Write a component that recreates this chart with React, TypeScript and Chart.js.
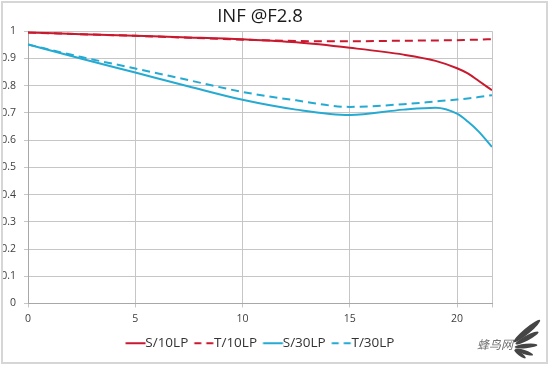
import React, { useEffect, useRef } from "react";
import { Chart, registerables } from "chart.js";

Chart.register(...registerables);

const fieldPositions = [0, 2.5, 5, 7.5, 10, 12.5, 15, 17.5, 19, 20, 20.5, 21, 21.63];
const s10 = [0.995, 0.989, 0.983, 0.977, 0.970, 0.959, 0.939, 0.914, 0.891, 0.864, 0.845, 0.818, 0.783];
const t10 = [0.995, 0.989, 0.983, 0.976, 0.969, 0.964, 0.963, 0.965, 0.966, 0.967, 0.968, 0.969, 0.971];
const s30 = [0.951, 0.899, 0.848, 0.797, 0.748, 0.712, 0.692, 0.712, 0.719, 0.697, 0.668, 0.632, 0.575];
const t30 = [0.951, 0.905, 0.863, 0.820, 0.777, 0.746, 0.722, 0.732, 0.742, 0.749, 0.753, 0.758, 0.765];
const seriesNames = ["S/10LP", "T/10LP", "S/30LP", "T/30LP"];
const xTickValues = [0, 5, 10, 15, 20];
const xMax = 21.63;
const titleText = "INF @F2.8";
const watermarkText = "蜂鸟网";

const RED = "#C8192E";
const CYAN = "#25AAD2";

function makeLegendImage(color: string, dashed: boolean) {
  const c = document.createElement("canvas");
  c.width = 40;
  c.height = 4;
  const ctx = c.getContext("2d")!;
  ctx.strokeStyle = color;
  ctx.lineWidth = 2;
  if (dashed) ctx.setLineDash([7, 5]);
  ctx.beginPath();
  ctx.moveTo(13.5, 2);
  ctx.lineTo(33.5, 2);
  ctx.stroke();
  return c;
}

const framePlugin = {
  id: "frame",
  beforeDraw(chart: any) {
    const ctx = chart.ctx;
    ctx.save();
    ctx.fillStyle = "#ffffff";
    ctx.fillRect(0, 0, chart.width, chart.height);
    ctx.restore();
  },
  afterDraw(chart: any) {
    const ctx = chart.ctx;
    ctx.save();
    ctx.strokeStyle = "#d6d6d6";
    ctx.lineWidth = 2;
    ctx.strokeRect(2, 2, 545, 361);
    // watermark
    ctx.fillStyle = "#707070";
    ctx.font = "italic 12px 'Noto Sans CJK SC'";
    ctx.textBaseline = "middle";
    ctx.textAlign = "left";
    ctx.fillText(watermarkText, 477, 344);
    ctx.fillStyle = "#454545";
    const leaves = [
      [527, 331, 17, 3, -40],
      [527, 338, 13, 2.5, -28],
      [526, 346, 11.5, 2.2, -5],
      [524, 352, 9.5, 2, 18],
      [520, 354, 7, 1.8, 36],
    ];
    leaves.forEach(([x, y, rx, ry, a]) => {
      ctx.beginPath();
      ctx.ellipse(x, y, rx, ry, (a * Math.PI) / 180, 0, Math.PI * 2);
      ctx.fill();
    });
    ctx.restore();
  },
};

export default function App() {
  const ref = useRef<HTMLCanvasElement>(null);
  useEffect(() => {
    document.body.style.margin = "0";
    Chart.defaults.font.family = "'Open Sans'";
    const colors = [RED, RED, CYAN, CYAN];
    const dashed = [false, true, false, true];
    const values = [s10, t10, s30, t30];
    const images = colors.map((c, i) => makeLegendImage(c, dashed[i]));
    const chart = new Chart(ref.current!, {
      type: "line",
      data: {
        datasets: seriesNames.map((name, i) => ({
          label: name,
          data: fieldPositions.map((x, j) => ({ x, y: values[i][j] })),
          borderColor: colors[i],
          backgroundColor: colors[i],
          borderWidth: 2,
          borderDash: dashed[i] ? [8, 5] : [],
          pointRadius: 0,
          cubicInterpolationMode: "monotone" as const,
          fill: false,
        })),
      },
      options: {
        animation: false,
        responsive: true,
        maintainAspectRatio: false,
        layout: { padding: { left: 0, right: 58, top: 0, bottom: 6 } },
        plugins: {
          tooltip: { enabled: false },
          title: {
            display: true,
            text: titleText,
            fullSize: false,
            color: "#1a1a1a",
            font: { size: 18.5, weight: "normal" as const, lineHeight: 1.2 },
            padding: { top: 6, bottom: 3 },
          },
          legend: {
            position: "bottom",
            fullSize: false,
            labels: {
              usePointStyle: true,
              pointStyleWidth: 13,
              padding: 6,
              color: "#333333",
              font: { size: 13.5 },
              generateLabels: (ch: any) => {
                const items = (Chart.defaults.plugins.legend.labels as any).generateLabels(ch);
                return items.map((it: any, i: number) => ({ ...it, pointStyle: images[i] }));
              },
            },
          },
        },
        scales: {
          x: {
            type: "linear",
            min: 0,
            max: xMax,
            afterBuildTicks: (s: any) => {
              s.ticks = [...xTickValues, xMax].map((v) => ({ value: v }));
            },
            afterFit: (s: any) => {
              s.height = 27;
            },
            ticks: {
              padding: 5,
              autoSkip: false,
              maxRotation: 0,
              color: "#404040",
              font: { size: 10.5 },
              callback: (v: any) => (xTickValues.includes(v) ? String(v) : ""),
            },
            grid: { color: "#c6c6c6", tickLength: 4, lineWidth: 1 },
            border: { color: "#a8a8a8" },
          },
          y: {
            min: 0,
            max: 1,
            afterFit: (s: any) => {
              s.width = 28;
            },
            ticks: {
              stepSize: 0.1,
              padding: 8,
              color: "#404040",
              font: { size: 10.5 },
              callback: (v: any) => String(Number(Number(v).toFixed(1))),
            },
            grid: { color: "#c6c6c6", tickLength: 4, lineWidth: 1 },
            border: { color: "#a8a8a8" },
          },
        },
      },
      plugins: [framePlugin],
    });
    return () => chart.destroy();
  }, []);
  return (
    <div style={{ width: 550, height: 366, position: "relative" }}>
      <canvas ref={ref} />
    </div>
  );
}
